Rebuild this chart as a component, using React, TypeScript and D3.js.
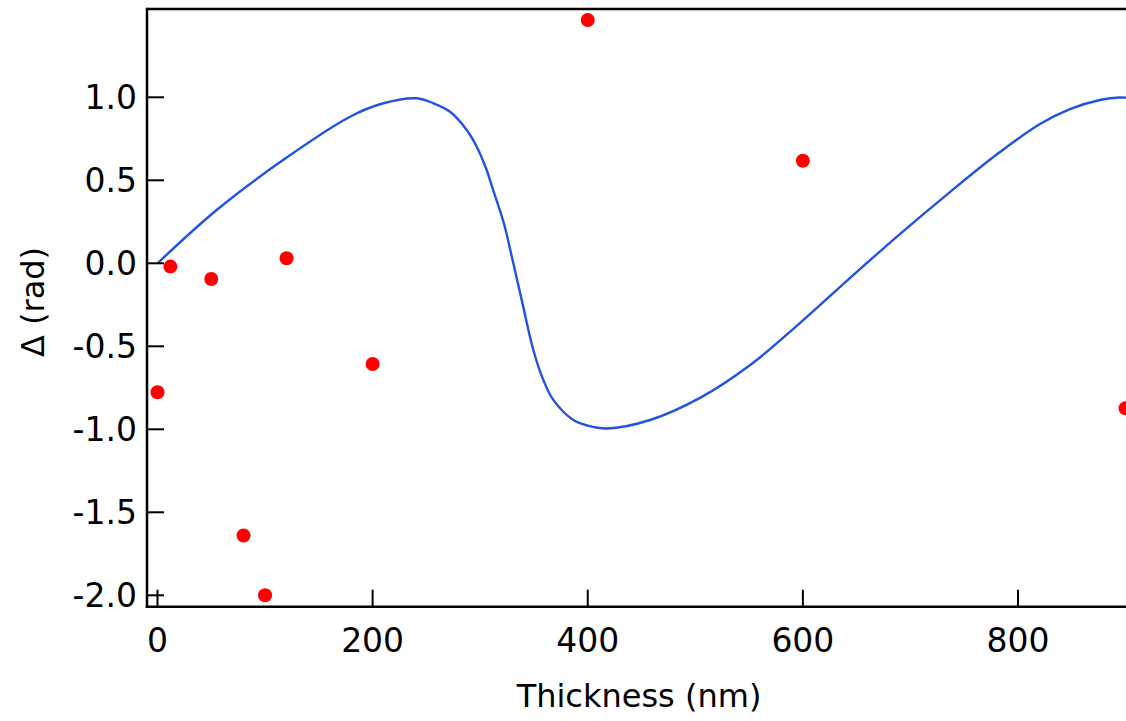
import React from "react";
import * as d3 from "d3";

const curveX = [0, 55, 116.7, 179, 210, 241, 256.5, 272, 287.5, 296.8, 306, 312, 322, 330.8, 340, 349.4, 358.7, 368, 386.6, 400, 418, 458, 504.4, 551, 597.2, 643.7, 690.2, 736.7, 783.2, 820.4, 848.3, 876.2, 894.8, 905];
const curveY = [0, 0.321, 0.622, 0.883, 0.964, 0.994, 0.964, 0.913, 0.803, 0.702, 0.562, 0.442, 0.241, 0, -0.261, -0.522, -0.703, -0.823, -0.944, -0.978, -0.995, -0.944, -0.811, -0.613, -0.36, -0.089, 0.176, 0.429, 0.67, 0.839, 0.929, 0.984, 0.999, 0.995];

const pointX = [0, 12, 50, 80, 100, 120, 200, 400, 600, 900];
const pointY = [-0.777, -0.02, -0.095, -1.64, -2.0, 0.03, -0.607, 1.466, 0.618, -0.873];

const xTicks = [0, 200, 400, 600, 800];
const yTicks = [-2.0, -1.5, -1.0, -0.5, 0.0, 0.5, 1.0];

const xLabel = "Thickness (nm)";
const yLabel = "Δ (rad)";

export default function App() {
  const W = 1126;
  const H = 721;
  const left = 147;
  const top = 9;
  const bottom = 606.7;
  const x = d3.scaleLinear().domain([0, 800]).range([157.5, 1018]);
  const y = d3.scaleLinear().domain([-2, 1]).range([595.3, 97.3]);
  const right = W;

  const curveData = curveX.map((v, i) => [v, curveY[i]] as [number, number]);
  const line = d3
    .line<[number, number]>()
    .x((d) => x(d[0]))
    .y((d) => y(d[1]))
    .curve(d3.curveCatmullRom.alpha(0.5));

  const font = "'DejaVu Sans', sans-serif";
  const tickLen = 17;

  return (
    <svg
      width={W}
      height={H}
      style={{ position: "absolute", left: 0, top: 0, background: "#fff" }}
      fontFamily={font}
    >
      <rect x={0} y={0} width={W} height={H} fill="#fff" />
      <path d={line(curveData) || ""} fill="none" stroke="#2152e0" strokeWidth={2.4} />
      {pointX.map((px, i) => (
        <circle key={i} cx={x(px)} cy={y(pointY[i])} r={7} fill="#ff0000" />
      ))}
      {/* frame */}
      <line x1={left} y1={top} x2={right} y2={top} stroke="#000" strokeWidth={2.5} />
      <line x1={left} y1={top - 1.25} x2={left} y2={bottom + 1.25} stroke="#000" strokeWidth={2.5} />
      <line x1={left - 1.25} y1={bottom} x2={right} y2={bottom} stroke="#000" strokeWidth={2.5} />
      {/* y ticks */}
      {yTicks.map((t) => (
        <g key={"y" + t}>
          <line x1={left} x2={left + tickLen} y1={y(t)} y2={y(t)} stroke="#000" strokeWidth={2} />
          <text
            x={137}
            y={y(t)}
            dy="0.36em"
            textAnchor="end"
            fontSize={33}
            fill="#000"
          >
            {t.toFixed(1)}
          </text>
        </g>
      ))}
      {/* x ticks */}
      {xTicks.map((t) => (
        <g key={"x" + t}>
          <line x1={x(t)} x2={x(t)} y1={bottom} y2={bottom - tickLen} stroke="#000" strokeWidth={2} />
          <text x={x(t)} y={651.7} textAnchor="middle" fontSize={33} fill="#000">
            {t}
          </text>
        </g>
      ))}
      <text x={639} y={706.7} textAnchor="middle" fontSize={32} fill="#000">
        {xLabel}
      </text>
      <text
        transform={`translate(44, 302) rotate(-90)`}
        textAnchor="middle"
        fontSize={32}
        fill="#000"
      >
        {yLabel}
      </text>
    </svg>
  );
}
